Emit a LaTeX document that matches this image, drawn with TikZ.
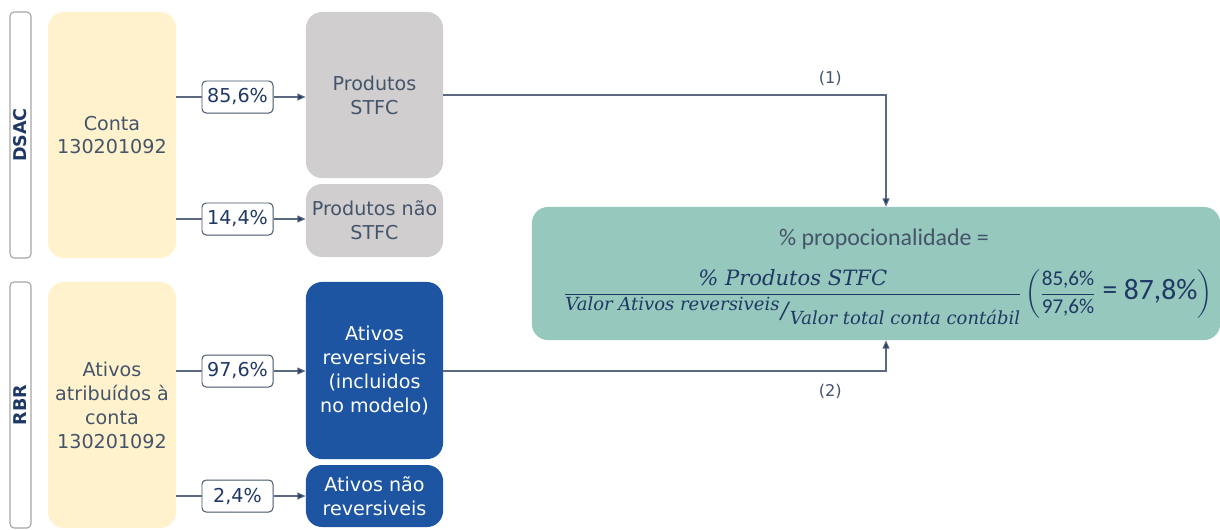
\documentclass[tikz,border=0pt]{standalone}
\usepackage{fontspec}
\setmainfont{DejaVu Sans}
\newfontfamily\calfont{Carlito}
\newfontfamily\eqfont{DejaVu Serif}
\usepackage{amsmath}
\usetikzlibrary{arrows.meta}

\definecolor{cYellow}{HTML}{FFF2CC}
\definecolor{cGray}{HTML}{D0CECE}
\definecolor{cBlue}{HTML}{1D55A2}
\definecolor{cGreen}{HTML}{96C8BD}
\definecolor{cText}{HTML}{44546A}
\definecolor{cNavy}{HTML}{1F3864}
\definecolor{cLine}{HTML}{5B6A80}

\tikzset{
  sidebar/.style={draw=gray!70, fill=white, rounded corners=3pt, line width=0.8pt,
    minimum width=0.525cm, inner sep=0pt},
  sidetext/.style={rotate=90, text=cNavy, font=\fontsize{12.5}{14}\selectfont\bfseries},
  srcbox/.style={fill=cYellow, rounded corners=0.4cm, minimum width=3.2cm,
    minimum height=6.15cm, align=center, text=cText},
  greybox/.style={fill=cGray, rounded corners=0.4cm, minimum width=3.425cm,
    align=center, text=cText},
  bluebox/.style={fill=cBlue, rounded corners=0.4cm, minimum width=3.425cm,
    align=center, text=white},
  pctbox/.style={draw=cText, fill=white, rounded corners=3pt, line width=0.7pt,
    minimum width=1.775cm, minimum height=0.8cm, inner sep=0pt, text=cNavy},
  wire/.style={draw=cLine, line width=0.8pt},
  arr/.style={wire, -{Triangle[length=6pt,width=5pt,fill=cNavy]}},
  tag/.style={text=cText, font=\fontsize{11.5}{13}\selectfont}
}

% pieces of the formula
\newcommand{\eqit}[1]{\text{\eqfont\itshape #1}}
\newcommand{\eqden}{\text{\eqfont\itshape\fontsize{12.8}{13}\selectfont
  \raisebox{0.3em}{Valor Ativos reversiveis}\kern1pt{\fontsize{16}{16}\selectfont\raisebox{-0.1em}{/}}\kern1pt\raisebox{-0.45em}{Valor total conta contábil}}}
\newcommand{\eqnum}[1]{\text{\calfont\fontsize{15}{15}\selectfont #1}}

\begin{document}
\begin{tikzpicture}[x=0.025cm, y=-0.025cm, font=\fontsize{13.6}{17}\selectfont]
\useasboundingbox (0,0) rectangle (1220,529);

% DSAC
\node[sidebar, minimum height=6.15cm] (dsacbar) at (20.5,135) {};
\node[sidetext] (dsac) at (dsacbar.center) {DSAC};
\node[srcbox] (conta) at (112,135) {Conta\\130201092};
\node[greybox, minimum height=4.15cm] (prod) at (374.5,95) {Produtos\\STFC};
\node[greybox, minimum height=1.825cm] (prodn) at (374.5,220.5) {Produtos não\\STFC};

% RBR
\node[sidebar, minimum height=6.15cm] (rbrbar) at (20.5,405) {};
\node[sidetext] (rbr) at (rbrbar.center) {RBR};
\node[srcbox] (ativ) at (112,405) {Ativos\\atribuídos à\\conta\\130201092};
\node[bluebox, minimum height=4.425cm] (atrev) at (374.5,370.5) {Ativos\\reversiveis\\(incluidos\\no modelo)};
\node[bluebox, minimum height=1.55cm] (atnrev) at (374.5,496) {Ativos não\\reversiveis};

% percentages
\node[pctbox] (p856) at (237.5,97) {85,6\%};
\node[pctbox] (p144) at (237.5,219) {14,4\%};
\node[pctbox] (p976) at (237.5,371) {97,6\%};
\node[pctbox] (p24) at (237.5,496) {2,4\%};

\draw[wire] (conta.east |- p856) -- (p856.west);
\draw[arr] (p856.east) -- (prod.west |- p856);
\draw[wire] (conta.east |- p144) -- (p144.west);
\draw[arr] (p144.east) -- (prodn.west |- p144);
\draw[wire] (ativ.east |- p976) -- (p976.west);
\draw[arr] (p976.east) -- (atrev.west |- p976);
\draw[wire] (ativ.east |- p24) -- (p24.west);
\draw[arr] (p24.east) -- (atnrev.west |- p24);

% calculation
\node[fill=cGreen, rounded corners=0.4cm, minimum width=17.2cm, minimum height=3.325cm] (calc) at (876,273.5) {};
\node[text=cText, font=\calfont\fontsize{17}{20}\selectfont] (calctitle) at (884,239) {\% propocionalidade =};
\node[text=cNavy, font=\fontsize{15}{18}\selectfont, inner sep=0pt] (calcform) at (888,297)
  {$\dfrac{\eqit{\% Produtos STFC}}{\eqden}
   \left(\dfrac{\eqnum{85,6\%}}{\eqnum{97,6\%}}\text{\calfont\fontsize{21}{21}\selectfont\ = 87,8\%}\right)$};

\draw[arr] (prod.east) -| node[tag, pos=0.437, above=3pt] (n1) {(1)} ([xshift=0.25cm]calc.north);
\draw[arr] (atrev.east |- p976) -| node[tag, pos=0.437, below=6pt] (n2) {(2)} ([xshift=0.25cm]calc.south);
\end{tikzpicture}
\end{document}
